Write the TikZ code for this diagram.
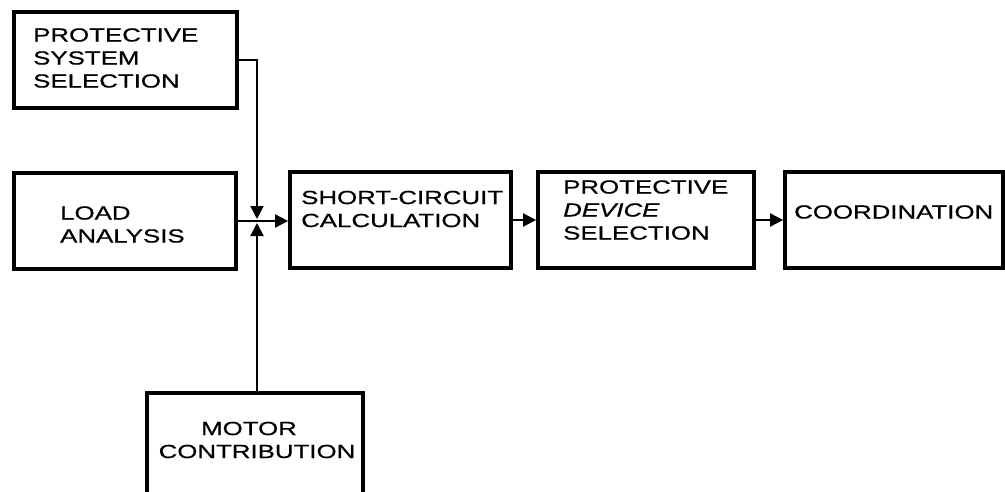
\documentclass[tikz,border=0pt]{standalone}
\usepackage{fontspec}
\setmainfont{Liberation Sans}
\newfontfamily\lblfont[FakeStretch=1.36,FakeBold=0.6]{Liberation Sans}
\usetikzlibrary{arrows.meta}
\tikzset{
  box/.style={draw, line width=3.8pt, inner sep=0pt},
  lbl/.style={font=\lblfont\fontsize{19}{23}\selectfont, align=left, inner sep=0pt, anchor=west},
  conn/.style={line width=2pt},
  arr/.style={conn, -{Triangle[length=13pt,width=13pt]}}
}
\begin{document}
\begin{tikzpicture}[x=1pt,y=-1pt]
\clip (0,0) rectangle (1005,491);
\fill[white] (0,0) rectangle (1005,491);
% boxes
\node[box, minimum width=223pt, minimum height=96pt] (pss) at (125.5,60) {};
\node[box, minimum width=222pt, minimum height=96pt] (load) at (125,221) {};
\node[box, minimum width=221pt, minimum height=96pt] (sc) at (400.5,220) {};
\node[box, minimum width=216pt, minimum height=96pt] (pd) at (646,220) {};
\node[box, minimum width=218pt, minimum height=96pt] (coord) at (894,220) {};
\node[box, minimum width=216pt, minimum height=110pt] (motor) at (255,448) {};
% texts
\node[lbl] (tpss) at (33,58) {PROTECTIVE\\SYSTEM\\SELECTION};
\node[lbl] (tload) at (60,224.5) {LOAD\\ANALYSIS};
\node[lbl] (tsc) at (301,209) {SHORT-CIRCUIT\\CALCULATION};
\node[lbl] (tpd) at (563,210) {PROTECTIVE\\\textit{DEVICE}\\SELECTION};
\node[lbl] (tcoord) at (794,212) {COORDINATION};
\node[lbl, align=center, anchor=center] (tmotor) at (257,440) {\hspace*{-16pt}MOTOR\\CONTRIBUTION};
% junction
\coordinate (jt) at (257,219);
\coordinate (jb) at (257,223);
\draw[arr] (pss.east) -| (jt);
\draw[arr] (jb |- motor.north) -- (jb);
\draw[arr] (load.east) -- (load.east -| sc.west);
\draw[arr] (sc.east) -- (sc.east -| pd.west);
\draw[arr] (pd.east) -- (pd.east -| coord.west);
\end{tikzpicture}
\end{document}
